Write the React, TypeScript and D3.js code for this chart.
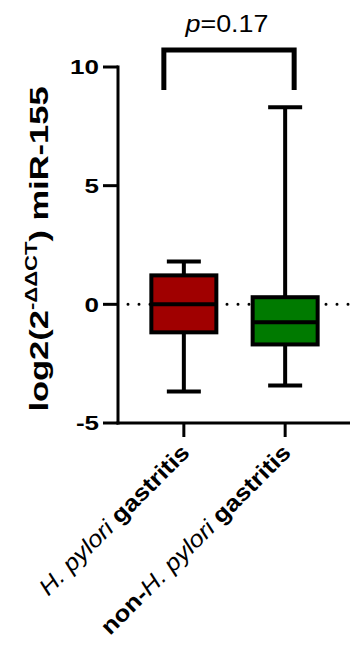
import React from "react";
import * as d3 from "d3";

// Groups and box-plot summaries (log2 fold change of miR-155)
const groups = ["hp", "nonhp"];
const boxColors = ["#a00000", "#007a00"];
const whiskerLow = [-3.67, -3.42];
const q1 = [-1.18, -1.69];
const medians = [0.0, -0.76];
const q3 = [1.22, 0.3];
const whiskerHigh = [1.8, 8.3];
const yTicks = [-5, 0, 5, 10];
const pLabel = "0.17";

const W = 351;
const H = 650;
const FONT = "'Liberation Sans', Arial, Helvetica, sans-serif";

export default function App() {
  const y = d3.scaleLinear().domain([-5, 10]).range([423, 67]);
  const x = d3.scalePoint<string>().domain(groups).range([118, 351]).padding(0.65);
  const boxW = 65;
  const capW = 34;
  const sw = 4;
  const axisX = 118;
  const axisY = y(-5);

  const xa = x("hp")!;
  const xb = x("nonhp")!;
  const bracketTop = 50;
  const bracketBottom = 90;

  return (
    <svg width={W} height={H} style={{ position: "absolute", left: 0, top: 0, background: "#fff" }}>
      {/* zero reference line */}
      <line x1={axisX + 10} x2={W} y1={y(0)} y2={y(0)} stroke="#000" strokeWidth={3}
        strokeDasharray="0 11" strokeLinecap="round" />

      {/* boxes */}
      {groups.map((g, i) => {
        const cx = x(g)!;
        return (
          <g key={g} stroke="#000" strokeWidth={sw}>
            <line x1={cx} x2={cx} y1={y(whiskerHigh[i])} y2={y(q3[i])} />
            <line x1={cx} x2={cx} y1={y(q1[i])} y2={y(whiskerLow[i])} />
            <line x1={cx - capW / 2} x2={cx + capW / 2} y1={y(whiskerHigh[i])} y2={y(whiskerHigh[i])} />
            <line x1={cx - capW / 2} x2={cx + capW / 2} y1={y(whiskerLow[i])} y2={y(whiskerLow[i])} />
            <rect x={cx - boxW / 2} y={y(q3[i])} width={boxW} height={y(q1[i]) - y(q3[i])}
              fill={boxColors[i]} />
            <line x1={cx - boxW / 2} x2={cx + boxW / 2} y1={y(medians[i])} y2={y(medians[i])} />
          </g>
        );
      })}

      {/* y axis */}
      <line x1={axisX} x2={axisX} y1={y(10) - 1.5} y2={axisY + 1.5} stroke="#000" strokeWidth={3} />
      {yTicks.map((t) => (
        <g key={t}>
          <line x1={axisX - 15} x2={axisX} y1={y(t)} y2={y(t)} stroke="#000" strokeWidth={3} />
          <text transform={`translate(${axisX - 19},${y(t)}) scale(1.3,1)`} dy="0.36em"
            textAnchor="end" fontFamily={FONT} fontWeight="bold" fontSize={20}>
            {t}
          </text>
        </g>
      ))}

      {/* x axis */}
      <line x1={axisX - 1.5} x2={W - 1} y1={axisY} y2={axisY} stroke="#000" strokeWidth={3} />
      {groups.map((g) => (
        <line key={g} x1={x(g)!} x2={x(g)!} y1={axisY} y2={axisY + 14} stroke="#000" strokeWidth={3} />
      ))}

      {/* category labels */}
      <text transform={`translate(${xa + 7},${axisY + 31}) rotate(-45) scale(1.12,1)`} textAnchor="end"
        fontFamily={FONT} fontSize={23}>
        <tspan fontStyle="italic">H. pylori</tspan>
        <tspan fontWeight="bold"> gastritis</tspan>
      </text>
      <text transform={`translate(${xb + 7},${axisY + 31}) rotate(-45) scale(1.12,1)`} textAnchor="end"
        fontFamily={FONT} fontSize={23}>
        <tspan fontWeight="bold">non-</tspan>
        <tspan fontStyle="italic">H. pylori</tspan>
        <tspan fontWeight="bold"> gastritis</tspan>
      </text>

      {/* y title */}
      <text transform={`translate(48,249) rotate(-90) scale(1.38,1)`} textAnchor="middle" fontFamily={FONT}
        fontWeight="bold" fontSize={25}>
        log2(2<tspan fontSize={16} dy={-11}>-ΔΔCT</tspan>
        <tspan dy={11}>) miR-155</tspan>
      </text>

      {/* significance bracket */}
      <path d={`M${xa - 20},${bracketBottom} V${bracketTop} H${xb + 9} V${bracketBottom}`}
        fill="none" stroke="#000" strokeWidth={5} />
      <text transform={`translate(${(xa - 20 + xb + 9) / 2 - 2},32) scale(1.12,1)`} textAnchor="middle"
        fontFamily={FONT} fontSize={24}>
        <tspan fontStyle="italic">p</tspan>={pLabel}
      </text>
    </svg>
  );
}
